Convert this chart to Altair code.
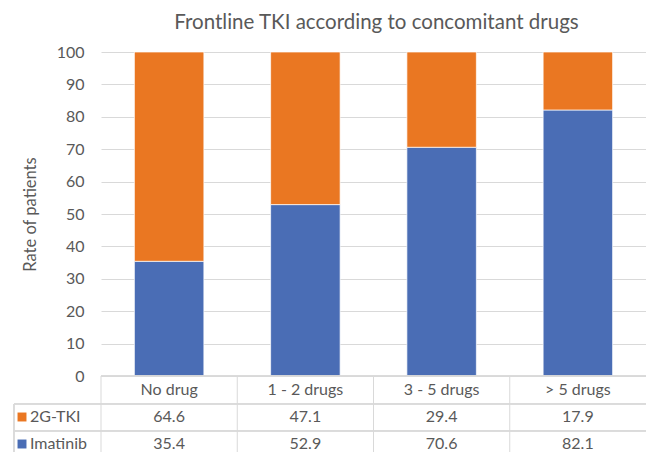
import altair as alt
import pandas as pd

categories = ["No drug", "1 - 2 drugs", "3 - 5 drugs", "> 5 drugs"]
series = ["2G-TKI", "Imatinib"]
tki2g = [64.6, 47.1, 29.4, 17.9]
imatinib = [35.4, 52.9, 70.6, 82.1]
colors = ["#ea7722", "#4a6db5"]
y_ticks = list(range(0, 101, 10))
title_text = "Frontline TKI according to concomitant drugs"

W, H = 545, 324
FONT = "Lato"
GREY = "#595959"
LINE = "#d9d9d9"
LEFT = -87          # table left border relative to plot
ROW1, ROW2, ROW3, BOT = 0, 28, 55, 76

rows = []
for i, c in enumerate(categories):
    rows.append({"cat": c, "series": "Imatinib", "value": imatinib[i], "ord": 0})
    rows.append({"cat": c, "series": "2G-TKI", "value": tki2g[i], "ord": 1})
df = pd.DataFrame(rows)
cat_df = pd.DataFrame({"cat": categories})
ser_df = pd.DataFrame({"series": series})
title_df = pd.DataFrame({"t": [title_text]})

xscale = alt.Scale(domain=categories, paddingInner=0, paddingOuter=0)
cscale = alt.Scale(domain=series, range=colors)
X = alt.X("cat:N", scale=xscale, axis=None, sort=categories)

bars = alt.Chart(df).mark_bar(
    width=alt.RelativeBandSize(0.51), stroke="white", strokeWidth=0.7
).encode(
    x=X,
    y=alt.Y(
        "value:Q",
        stack="zero",
        scale=alt.Scale(domain=[0, 100], nice=False),
        axis=alt.Axis(
            values=y_ticks,
            title="Rate of patients",
            domain=False,
            ticks=False,
            grid=True,
            gridColor=LINE,
            gridWidth=1,
            labelColor=GREY,
            labelFont=FONT,
            labelFontSize=16,
            labelPadding=17,
            titleColor=GREY,
            titleFont=FONT,
            titleFontSize=16.5,
            titleFontWeight="normal",
            titlePadding=18,
        ),
    ),
    color=alt.Color("series:N", scale=cscale, legend=None),
    order=alt.Order("ord:Q"),
)

# table grid lines
hline_top = alt.Chart(cat_df).mark_rule(color=LINE, strokeWidth=1).encode(
    x=alt.value(0), x2=alt.value(W), y=alt.value(H + ROW1)
)
hline2 = alt.Chart(cat_df).mark_rule(color=LINE, strokeWidth=1).encode(
    x=alt.value(LEFT), x2=alt.value(W), y=alt.value(H + ROW2)
)
hline3 = alt.Chart(cat_df).mark_rule(color=LINE, strokeWidth=1).encode(
    x=alt.value(LEFT), x2=alt.value(W), y=alt.value(H + ROW3)
)
vlines = alt.Chart(cat_df).mark_rule(color=LINE, strokeWidth=1).encode(
    x=alt.X("cat:N", scale=xscale, axis=None, sort=categories, bandPosition=0),
    y=alt.value(H + ROW1),
    y2=alt.value(H + BOT),
)
vleft = alt.Chart(cat_df).mark_rule(color=LINE, strokeWidth=1).encode(
    x=alt.value(LEFT), y=alt.value(H + ROW2), y2=alt.value(H + BOT)
)

txt = dict(font=FONT, fontSize=16, color=GREY, baseline="middle")

header = alt.Chart(cat_df).mark_text(align="center", **txt).encode(
    x=X, y=alt.value(H + 14), text="cat:N"
)
vals_2g = alt.Chart(df).transform_filter(alt.datum.series == "2G-TKI").mark_text(
    align="center", **txt
).encode(x=X, y=alt.value(H + 41), text=alt.Text("value:Q", format=".1f"))
vals_im = alt.Chart(df).transform_filter(alt.datum.series == "Imatinib").mark_text(
    align="center", **txt
).encode(x=X, y=alt.value(H + 68), text=alt.Text("value:Q", format=".1f"))

lab_2g = alt.Chart(ser_df).transform_filter(alt.datum.series == "2G-TKI")
lab_im = alt.Chart(ser_df).transform_filter(alt.datum.series == "Imatinib")
sq_2g = lab_2g.mark_square(size=80, opacity=1).encode(
    x=alt.value(LEFT + 8), y=alt.value(H + 41), color=alt.Color("series:N", scale=cscale, legend=None)
)
sq_im = lab_im.mark_square(size=80, opacity=1).encode(
    x=alt.value(LEFT + 8), y=alt.value(H + 68), color=alt.Color("series:N", scale=cscale, legend=None)
)
t_2g = lab_2g.mark_text(align="left", **txt).encode(
    x=alt.value(LEFT + 16), y=alt.value(H + 41), text="series:N"
)
t_im = lab_im.mark_text(align="left", **txt).encode(
    x=alt.value(LEFT + 16), y=alt.value(H + 68), text="series:N"
)

title = alt.Chart(title_df).mark_text(
    font=FONT, fontSize=20.5, color=GREY, align="center", baseline="alphabetic"
).encode(x=alt.value(W / 2 + 3), y=alt.value(-23), text="t:N")

chart = alt.layer(
    bars, hline_top, hline2, hline3, vlines, vleft,
    header, vals_2g, vals_im, sq_2g, sq_im, t_2g, t_im, title,
).properties(
    width=W,
    height=H,
    autosize=alt.AutoSizeParams(type="none"),
    padding={"left": 93, "top": 44, "right": 0, "bottom": 76},
).configure_view(stroke=None)

chart.save("out.html", embed_options={"renderer": "svg", "actions": False})
